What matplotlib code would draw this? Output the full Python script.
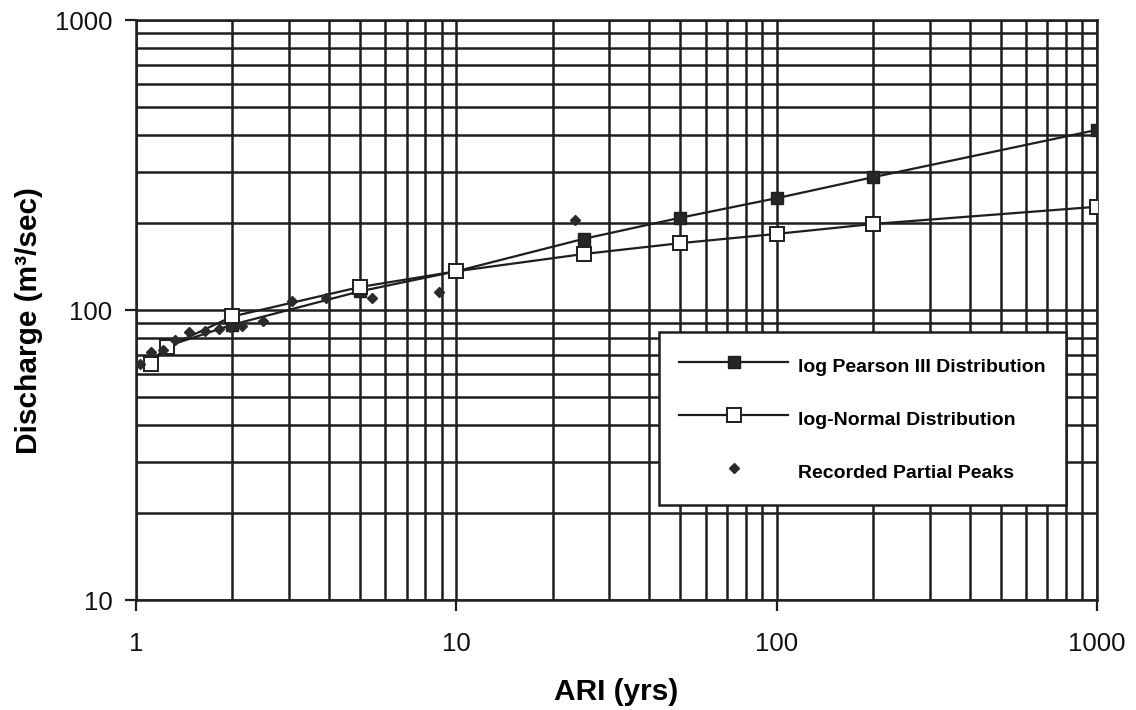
import matplotlib
matplotlib.use("Agg")
import matplotlib.pyplot as plt
from matplotlib.ticker import FixedLocator, NullFormatter

# Flood frequency estimates (ARI in years, discharge in m^3/s)
ari = [1.11, 1.25, 2, 5, 10, 25, 50, 100, 200, 1000]
log_pearson3 = [66, 75, 89, 116, 136, 176, 208, 243, 287, 418]
log_normal = [65, 74.5, 95, 120, 136, 156, 170, 183, 198, 227]

# Recorded partial-series peaks
peak_ari = [1.03, 1.11, 1.21, 1.32, 1.46, 1.64, 1.82, 1.97, 2.14, 2.5,
            3.07, 3.93, 5.44, 8.8, 23.5]
peak_q = [65, 71.6, 72.8, 78.8, 84.3, 84.7, 86, 87.4, 88.4, 91.6,
          107.4, 110, 110.4, 115.3, 204]

x_ticks = [1, 10, 100, 1000]
y_ticks = [10, 100, 1000]

plt.rcParams['font.family'] = ['Liberation Sans', 'DejaVu Sans']

ink = '#1e1e1e'

fig = plt.figure(figsize=(11.36, 7.1), dpi=100)
ax = fig.add_axes([136 / 1136, 110 / 710, 961 / 1136, 580 / 710])
ax.set_xscale('log')
ax.set_yscale('log')
ax.set_xlim(1, 1000)
ax.set_ylim(10, 1000)

ax.xaxis.set_major_locator(FixedLocator(x_ticks))
ax.yaxis.set_major_locator(FixedLocator(y_ticks))
ax.set_xticklabels([str(v) for v in x_ticks])
ax.set_yticklabels([str(v) for v in y_ticks])
ax.xaxis.set_minor_formatter(NullFormatter())
ax.yaxis.set_minor_formatter(NullFormatter())

ax.grid(True, which='both', color=ink, linewidth=1.8)
ax.set_axisbelow(True)
ax.tick_params(which='major', direction='out', length=8, width=1.6,
               color=ink, labelsize=18.5, labelcolor='#111111')
ax.tick_params(axis='x', which='major', pad=15)
ax.tick_params(axis='y', which='major', pad=9)
ax.tick_params(which='minor', length=0)
for s in ax.spines.values():
    s.set_color(ink)
    s.set_linewidth(1.8)

ax.plot(ari, log_pearson3, color=ink, lw=1.6, marker='s', markersize=8.5,
        markerfacecolor='#262626', markeredgecolor=ink,
        label='log Pearson III Distribution', zorder=3)
ax.plot(ari, log_normal, color=ink, lw=1.6, marker='s', markersize=10,
        markerfacecolor='white', markeredgecolor=ink, markeredgewidth=1.4,
        label='log-Normal Distribution', zorder=4)
ax.plot(peak_ari, peak_q, linestyle='none', marker='D', markersize=5.5,
        color='#2a2a2a', label='Recorded Partial Peaks', zorder=5)

ax.set_xlabel('ARI (yrs)', fontsize=21.5, fontweight='bold', labelpad=16)
ax.set_ylabel('Discharge (m³/sec)', fontsize=21.5, fontweight='bold')
ax.yaxis.set_label_coords(-0.0968, 0.481)

leg = ax.legend(loc='upper left', bbox_to_anchor=(0.544, 0.462),
                prop={'weight': 'bold', 'size': 14},
                frameon=True, fancybox=False, shadow=False,
                handlelength=5.6, handletextpad=0.5, borderpad=1.05,
                handleheight=1.65, labelspacing=1.42, borderaxespad=0)
frame = leg.get_frame()
frame.set_edgecolor(ink)
frame.set_linewidth(1.8)
frame.set_facecolor('white')
frame.set_alpha(1)

fig.savefig('out.png', dpi=100)
